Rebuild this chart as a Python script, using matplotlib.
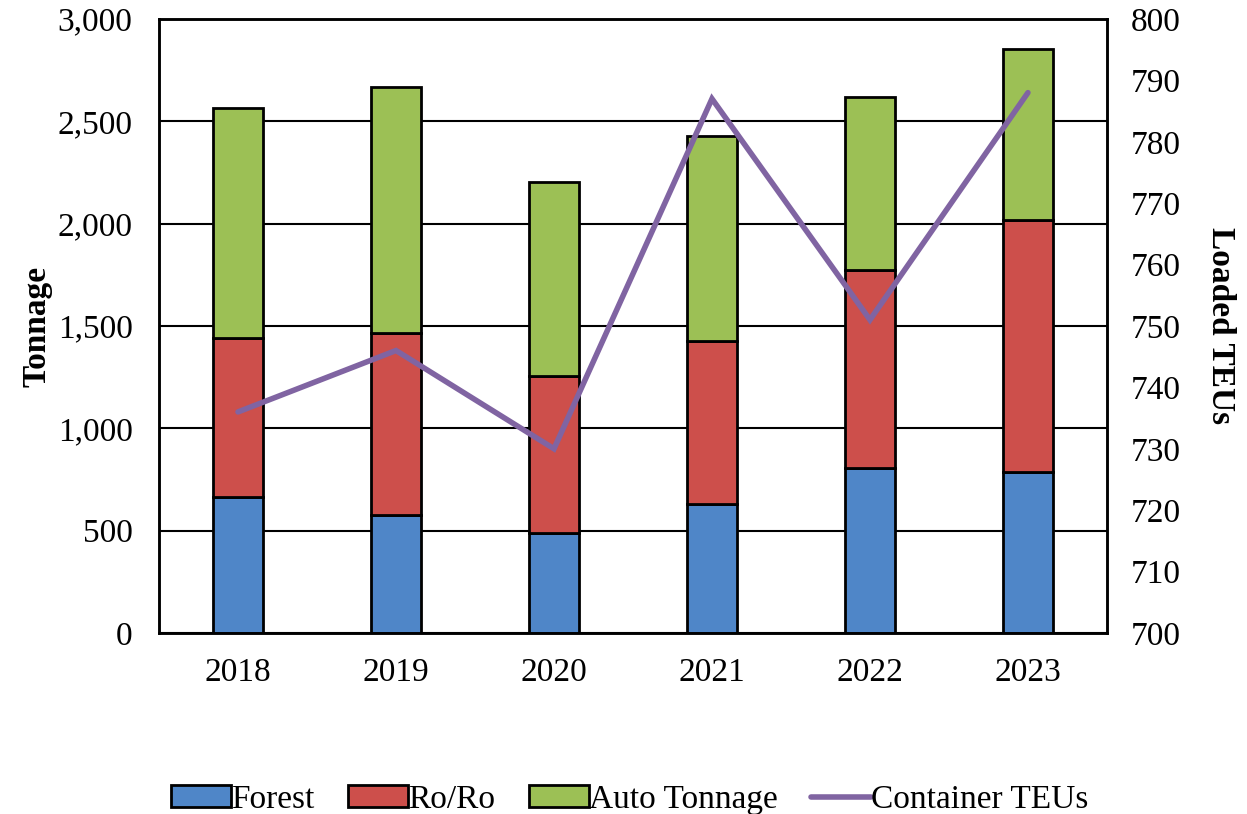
import matplotlib.pyplot as plt
import numpy as np

# values
years = ['2018', '2019', '2020', '2021', '2022', '2023']
forest = [665, 577, 489, 630, 806, 787]
roro = [776, 889, 767, 797, 968, 1231]
auto_tonnage = [1124, 1202, 948, 1001, 845, 835]
container_teus = [736, 746, 730, 787, 751, 788]

plt.rcParams['font.family'] = ['Liberation Serif', 'DejaVu Serif']
FS = 24

fig = plt.figure(figsize=(12.47, 8.14), dpi=100)
ax = fig.add_axes([0.1275, 0.2224, 0.7602, 0.7543])
ax2 = ax.twinx()

x = np.arange(len(years))
width = 0.32
forest_arr = np.array(forest)
roro_arr = np.array(roro)

b1 = ax.bar(x, forest, width, color='#4F86C8', edgecolor='black', linewidth=2, label='Forest', zorder=3)
b2 = ax.bar(x, roro, width, bottom=forest_arr, color='#CD4F4B', edgecolor='black', linewidth=2,
            label='Ro/Ro', zorder=3)
b3 = ax.bar(x, auto_tonnage, width, bottom=forest_arr + roro_arr, color='#9CC055', edgecolor='black',
            linewidth=2, label='Auto Tonnage', zorder=3)

line, = ax2.plot(x, container_teus, color='#8064A2', linewidth=4, solid_capstyle='round',
                 solid_joinstyle='miter', label='Container TEUs', zorder=4)

ax.set_xlim(-0.5, len(years) - 0.5)
ax.set_ylim(0, 3000)
ax.set_yticks(np.arange(0, 3001, 500))
ax.set_yticklabels([f'{v:,}' for v in range(0, 3001, 500)], fontsize=FS)
ax.set_xticks(x)
ax.set_xticklabels(years, fontsize=FS)
ax.tick_params(axis='y', length=0, pad=19)
ax.tick_params(axis='x', length=0, pad=18)
ax.grid(axis='y', color='black', linewidth=1.5, zorder=0)
ax.set_axisbelow(True)

ax2.set_ylim(700, 800)
ax2.set_yticks(np.arange(700, 801, 10))
ax2.tick_params(length=0, pad=17, labelsize=FS)

for a in (ax, ax2):
    for s in a.spines.values():
        s.set_linewidth(1.8)
        s.set_color('black')

ax.set_ylabel('Tonnage', fontsize=FS, fontweight='bold', labelpad=4)
ax2.set_ylabel('Loaded TEUs', fontsize=FS, fontweight='bold', rotation=-90, labelpad=40)

fig.legend(handles=[b1, b2, b3, line], loc='lower center', bbox_to_anchor=(0.505, -0.038),
           ncol=4, frameon=False, fontsize=FS, handlelength=1.8, handleheight=0.65,
           handletextpad=0.0, columnspacing=1.0)

plt.savefig('out.png', dpi=100)
